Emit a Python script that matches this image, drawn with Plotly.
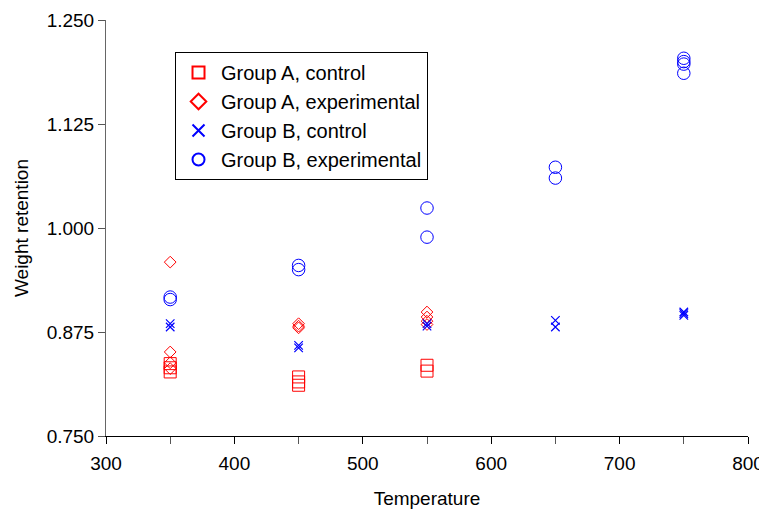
import plotly.graph_objects as go

# Data
a_ctrl_x = [350, 350, 350, 450, 450, 450, 550, 550]
a_ctrl_y = [0.837, 0.832, 0.827, 0.821, 0.815, 0.811, 0.835, 0.828]

a_exp_x = [350, 350, 350, 350, 450, 450, 450, 550, 550, 550, 550]
a_exp_y = [0.959, 0.851, 0.838, 0.831, 0.885, 0.882, 0.880, 0.899, 0.893, 0.888, 0.884]

b_ctrl_x = [350, 350, 450, 450, 550, 550, 650, 650, 750, 750, 750]
b_ctrl_y = [0.885, 0.881, 0.859, 0.856, 0.885, 0.882, 0.889, 0.881, 0.899, 0.895, 0.897]

b_exp_x = [350, 350, 450, 450, 550, 550, 650, 650, 750, 750, 750, 750]
b_exp_y = [0.917, 0.914, 0.955, 0.950, 1.024, 0.989, 1.073, 1.060, 1.204, 1.200, 1.197, 1.186]

x_ticks = [300, 400, 500, 600, 700, 800]
y_ticks = [0.750, 0.875, 1.000, 1.125, 1.250]

RED = "#ff0000"
BLUE = "#0000ff"

fig = go.Figure()
fig.add_trace(go.Scatter(x=a_ctrl_x, y=a_ctrl_y, mode="markers", name="Group A, control",
                         marker=dict(symbol="square-open", size=12, color=RED, line=dict(width=1))))
fig.add_trace(go.Scatter(x=a_exp_x, y=a_exp_y, mode="markers", name="Group A, experimental",
                         marker=dict(symbol="diamond-open", size=9, color=RED, line=dict(width=1))))
fig.add_trace(go.Scatter(x=b_ctrl_x, y=b_ctrl_y, mode="markers", name="Group B, control",
                         marker=dict(symbol="x-thin-open", size=8.5, color=BLUE, line=dict(width=1.2, color=BLUE))))
fig.add_trace(go.Scatter(x=b_exp_x, y=b_exp_y, mode="markers", name="Group B, experimental",
                         marker=dict(symbol="circle-open", size=12.5, color=BLUE, line=dict(width=1))))

font = "Liberation Sans, Arial, sans-serif"
# page body adds an 8px offset, so the figure is 8px smaller and left/top margins shifted
fig.update_layout(
    width=759, height=504,
    margin=dict(l=98, r=19, t=12, b=76, autoexpand=False),
    paper_bgcolor="white", plot_bgcolor="white",
    font=dict(family=font, size=19, color="black"),
    showlegend=True,
    legend=dict(x=0.1075, y=0.923, xanchor="left", yanchor="top",
                bordercolor="black", borderwidth=1, bgcolor="white",
                font=dict(size=20), tracegroupgap=0, itemsizing="constant", itemwidth=35),
    xaxis=dict(range=[300, 800], tickvals=x_ticks, ticks="outside", ticklen=7,
               tickcolor="black", showline=True, linecolor="black", linewidth=1,
               showgrid=False, zeroline=False, automargin=False, ticklabelstandoff=3,
               tickfont=dict(size=19),
               minor=dict(dtick=50, tick0=300, ticks="outside", ticklen=7, tickcolor="#555"),
               title=dict(text="Temperature", standoff=18, font=dict(size=19))),
    yaxis=dict(range=[0.750, 1.250], tickvals=y_ticks, tickformat=".3f", ticks="outside",
               ticklen=7, tickcolor="#555", showline=True, linecolor="#666", linewidth=1,
               showgrid=False, zeroline=False, automargin=False,
               tickfont=dict(size=19),
               title=dict(text="Weight retention", standoff=13, font=dict(size=19))),
)

fig.write_html("out.html")
